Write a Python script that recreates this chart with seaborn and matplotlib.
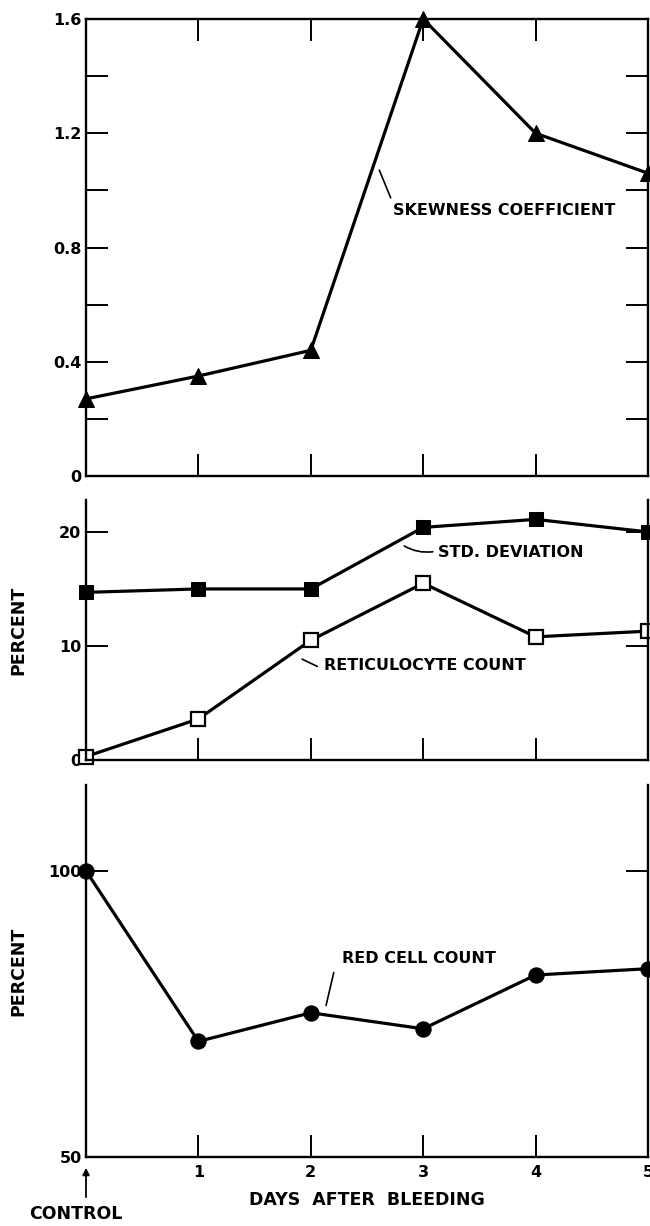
import numpy as np
import pandas as pd
import seaborn as sns
import matplotlib
matplotlib.use("Agg")
import matplotlib.pyplot as plt

# Days after bleeding (0 = control)
days = [0, 1, 2, 3, 4, 5]
x_tick_labels = ["1", "2", "3", "4", "5"]

skewness = [0.27, 0.35, 0.44, 1.60, 1.20, 1.06]
std_deviation = [14.7, 15.0, 15.0, 20.4, 21.1, 20.0]
reticulocyte = [0.3, 3.6, 10.5, 15.5, 10.8, 11.3]
red_cell = [100.0, 70.2, 75.2, 72.4, 81.8, 82.9]

sns.set_style("ticks")
plt.rcParams["font.family"] = ["DejaVu Sans"]
plt.rcParams["font.weight"] = "bold"
for key in ["text.color", "axes.labelcolor", "xtick.color", "ytick.color",
            "axes.edgecolor"]:
    plt.rcParams[key] = "black"

fig = plt.figure(figsize=(6.5, 12.26), dpi=100)
W, H = 650, 1226


def axes_at(left, top, right, bottom):
    return fig.add_axes([left / W, 1 - bottom / H, (right - left) / W, (bottom - top) / H])


ax1 = axes_at(86, 19, 648, 476)
ax2 = axes_at(86, 500, 648, 760)
ax3 = axes_at(86, 785, 648, 1157)

LW = 2.3
SPINE = 1.7
TICK_LEN = 16
FS = 11.5

df = pd.DataFrame({"day": days, "skew": skewness, "sd": std_deviation,
                   "ret": reticulocyte, "rbc": red_cell})

# Top panel: skewness coefficient
sns.lineplot(data=df, x="day", y="skew", ax=ax1, color="black", linewidth=LW,
             marker="^", markersize=11, markeredgecolor="black", clip_on=False)
ax1.set_xlim(0, 5)
ax1.set_ylim(0, 1.6)
ax1.set_yticks([0, 0.4, 0.8, 1.2, 1.6])
ax1.set_yticklabels(["0", "0.4", "0.8", "1.2", "1.6"])
ax1.set_yticks([0.2, 0.6, 1.0, 1.4], minor=True)
ax1.set_xticks([1, 2, 3, 4])
ax1.tick_params(axis="both", which="both", direction="in", length=TICK_LEN,
                width=1.4, top=True, right=True, labelbottom=False, labelsize=FS)
for s in ax1.spines.values():
    s.set_linewidth(SPINE)
ax1.set_xlabel("")
ax1.set_ylabel("")
ax1.annotate("", xy=(2.72, 0.965), xytext=(2.60, 1.08),
             arrowprops=dict(arrowstyle="-", lw=1.2, color="black"))
ax1.text(2.73, 0.93, "SKEWNESS COEFFICIENT", fontsize=FS, fontweight="bold",
         va="center", ha="left")

# Middle panel: standard deviation and reticulocyte count
sns.lineplot(data=df, x="day", y="sd", ax=ax2, color="black", linewidth=LW,
             marker="s", markersize=10, markeredgecolor="black", clip_on=False)
sns.lineplot(data=df, x="day", y="ret", ax=ax2, color="black", linewidth=LW,
             marker="s", markersize=10, markerfacecolor="white",
             markeredgecolor="black", markeredgewidth=1.6, clip_on=False)
ax2.set_xlim(0, 5)
ax2.set_ylim(0, 22.8)
ax2.set_yticks([0, 10, 20])
ax2.set_yticklabels(["0", "10", "20"])
ax2.set_xticks([1, 2, 3, 4])
ax2.tick_params(axis="both", direction="in", length=TICK_LEN, width=1.4,
                right=True, labelbottom=False, labelsize=FS)
ax2.spines["top"].set_visible(False)
for s in ["left", "right", "bottom"]:
    ax2.spines[s].set_linewidth(SPINE)
ax2.set_xlabel("")
ax2.set_ylabel("PERCENT", fontsize=12.5, fontweight="bold")
ax2.yaxis.set_label_coords(-0.105, 0.5)
ax2.annotate("", xy=(3.11, 18.3), xytext=(2.81, 18.9),
             arrowprops=dict(arrowstyle="-", lw=1.2, color="black",
                             connectionstyle="arc3,rad=0.2"))
ax2.text(3.13, 18.2, "STD. DEVIATION", fontsize=FS, fontweight="bold",
         va="center", ha="left")
ax2.annotate("", xy=(2.08, 8.1), xytext=(1.90, 8.95),
             arrowprops=dict(arrowstyle="-", lw=1.2, color="black"))
ax2.text(2.12, 8.3, "RETICULOCYTE COUNT", fontsize=FS, fontweight="bold",
         va="center", ha="left")

# Bottom panel: red cell count
sns.lineplot(data=df, x="day", y="rbc", ax=ax3, color="black", linewidth=LW,
             marker="o", markersize=11, markeredgecolor="black", clip_on=False)
ax3.set_xlim(0, 5)
ax3.set_ylim(50, 115)
ax3.set_yticks([50, 100])
ax3.set_yticklabels(["50", "100"])
ax3.set_xticks([1, 2, 3, 4, 5])
ax3.set_xticklabels(x_tick_labels)
ax3.tick_params(axis="both", direction="in", length=TICK_LEN, width=1.4,
                right=True, labelsize=FS, pad=6)
ax3.tick_params(axis="y", pad=3)
ax3.spines["top"].set_visible(False)
for s in ["left", "right", "bottom"]:
    ax3.spines[s].set_linewidth(SPINE)
ax3.set_ylabel("PERCENT", fontsize=12.5, fontweight="bold")
ax3.yaxis.set_label_coords(-0.105, 0.5)
ax3.set_xlabel("DAYS  AFTER  BLEEDING", fontsize=12.5, fontweight="bold", labelpad=8)
ax3.annotate("", xy=(2.13, 76.0), xytext=(2.21, 82.7),
             arrowprops=dict(arrowstyle="-", lw=1.2, color="black"))
ax3.text(2.28, 84.6, "RED CELL COUNT", fontsize=FS, fontweight="bold",
         va="center", ha="left")

# Control marker below the x axis
ax3.annotate("", xy=(0, 48.6), xytext=(0, 42.5), annotation_clip=False,
             arrowprops=dict(arrowstyle="-|>", lw=1.3, color="black",
                             mutation_scale=10))
ax3.text(-0.09, 40.0, "CONTROL", fontsize=12.5, fontweight="bold",
         va="center", ha="center", clip_on=False)

fig.savefig("out.png", dpi=100, facecolor="white")
